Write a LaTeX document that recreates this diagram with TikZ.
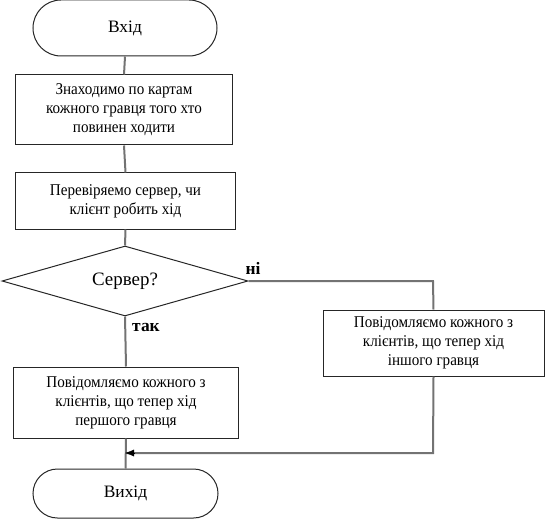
\documentclass[tikz,border=0pt]{standalone}
\usepackage{fontspec}
\setmainfont{Liberation Serif}
\newfontfamily\narrowserif[FakeStretch=0.92]{Liberation Serif}
\usetikzlibrary{shapes.geometric,arrows.meta}
\begin{document}
\begin{tikzpicture}[x=1bp,y=-1bp,
  shape border/.style={draw=black!85,line width=1bp},
  term/.style={shape border,rectangle,rounded corners=#1,inner sep=0pt,font=\fontsize{17.5}{20}\selectfont},
  proc/.style={shape border,rectangle,inner sep=0pt,align=center,font=\narrowserif\fontsize{16.5}{19}\selectfont},
  dec/.style={shape border,diamond,aspect=3.5,inner sep=0pt,font=\fontsize{19}{22}\selectfont},
  conn/.style={draw=black!55,line width=2bp},
  lbl/.style={font=\fontsize{17.5}{20}\selectfont\bfseries}]
\useasboundingbox (0,0) rectangle (546,521);
\node[term=28bp,minimum width=184bp,minimum height=56bp] (start) at (125,28) {Вхід};
\node[proc,minimum width=216bp,minimum height=70bp] (b1) at (124,110) {Знаходимо по картам\\кожного гравця того хто\\повинен ходити};
\node[proc,minimum width=219bp,minimum height=56bp] (b2) at (125.5,201) {Перевіряемо сервер, чи\\клієнт робить хід};
\node[dec,minimum width=246bp,minimum height=70bp] (d) at (125,281) {Сервер?};
\node[proc,minimum width=221bp,minimum height=66bp] (b3) at (433.5,343) {Повідомляємо кожного з\\клієнтів, що тепер хід\\іншого гравця};
\node[proc,minimum width=224bp,minimum height=71bp] (b4) at (126,402.5) {Повідомляємо кожного з\\клієнтів, що тепер хід\\першого гравця};
\node[term=24.5bp,minimum width=185bp,minimum height=49bp] (end) at (125.5,493.5) {Вихід};
\coordinate (c1) at (433,281);
\coordinate (c2) at (433,453);
\coordinate (m) at (125,453);
\draw[conn] (start.south) -- (b1.north);
\draw[conn] (b1.south) -- (b2.north);
\draw[conn] (b2.south) -- (d.north);
\draw[conn] (d.south) -- (b4.north);
\draw[conn] (b4.south) -- (end.north);
\draw[conn] (d.east) -- (c1) -- (b3.north);
\draw[conn] (b3.south) -- (c2) -- (m);
\draw[black,-{Latex[length=9bp,width=7bp]}] ([xshift=10bp]m) -- (m);
\node[lbl] (ni) at (253,268) {ні};
\node[lbl] (tak) at (146,327) {так};
\end{tikzpicture}
\end{document}
